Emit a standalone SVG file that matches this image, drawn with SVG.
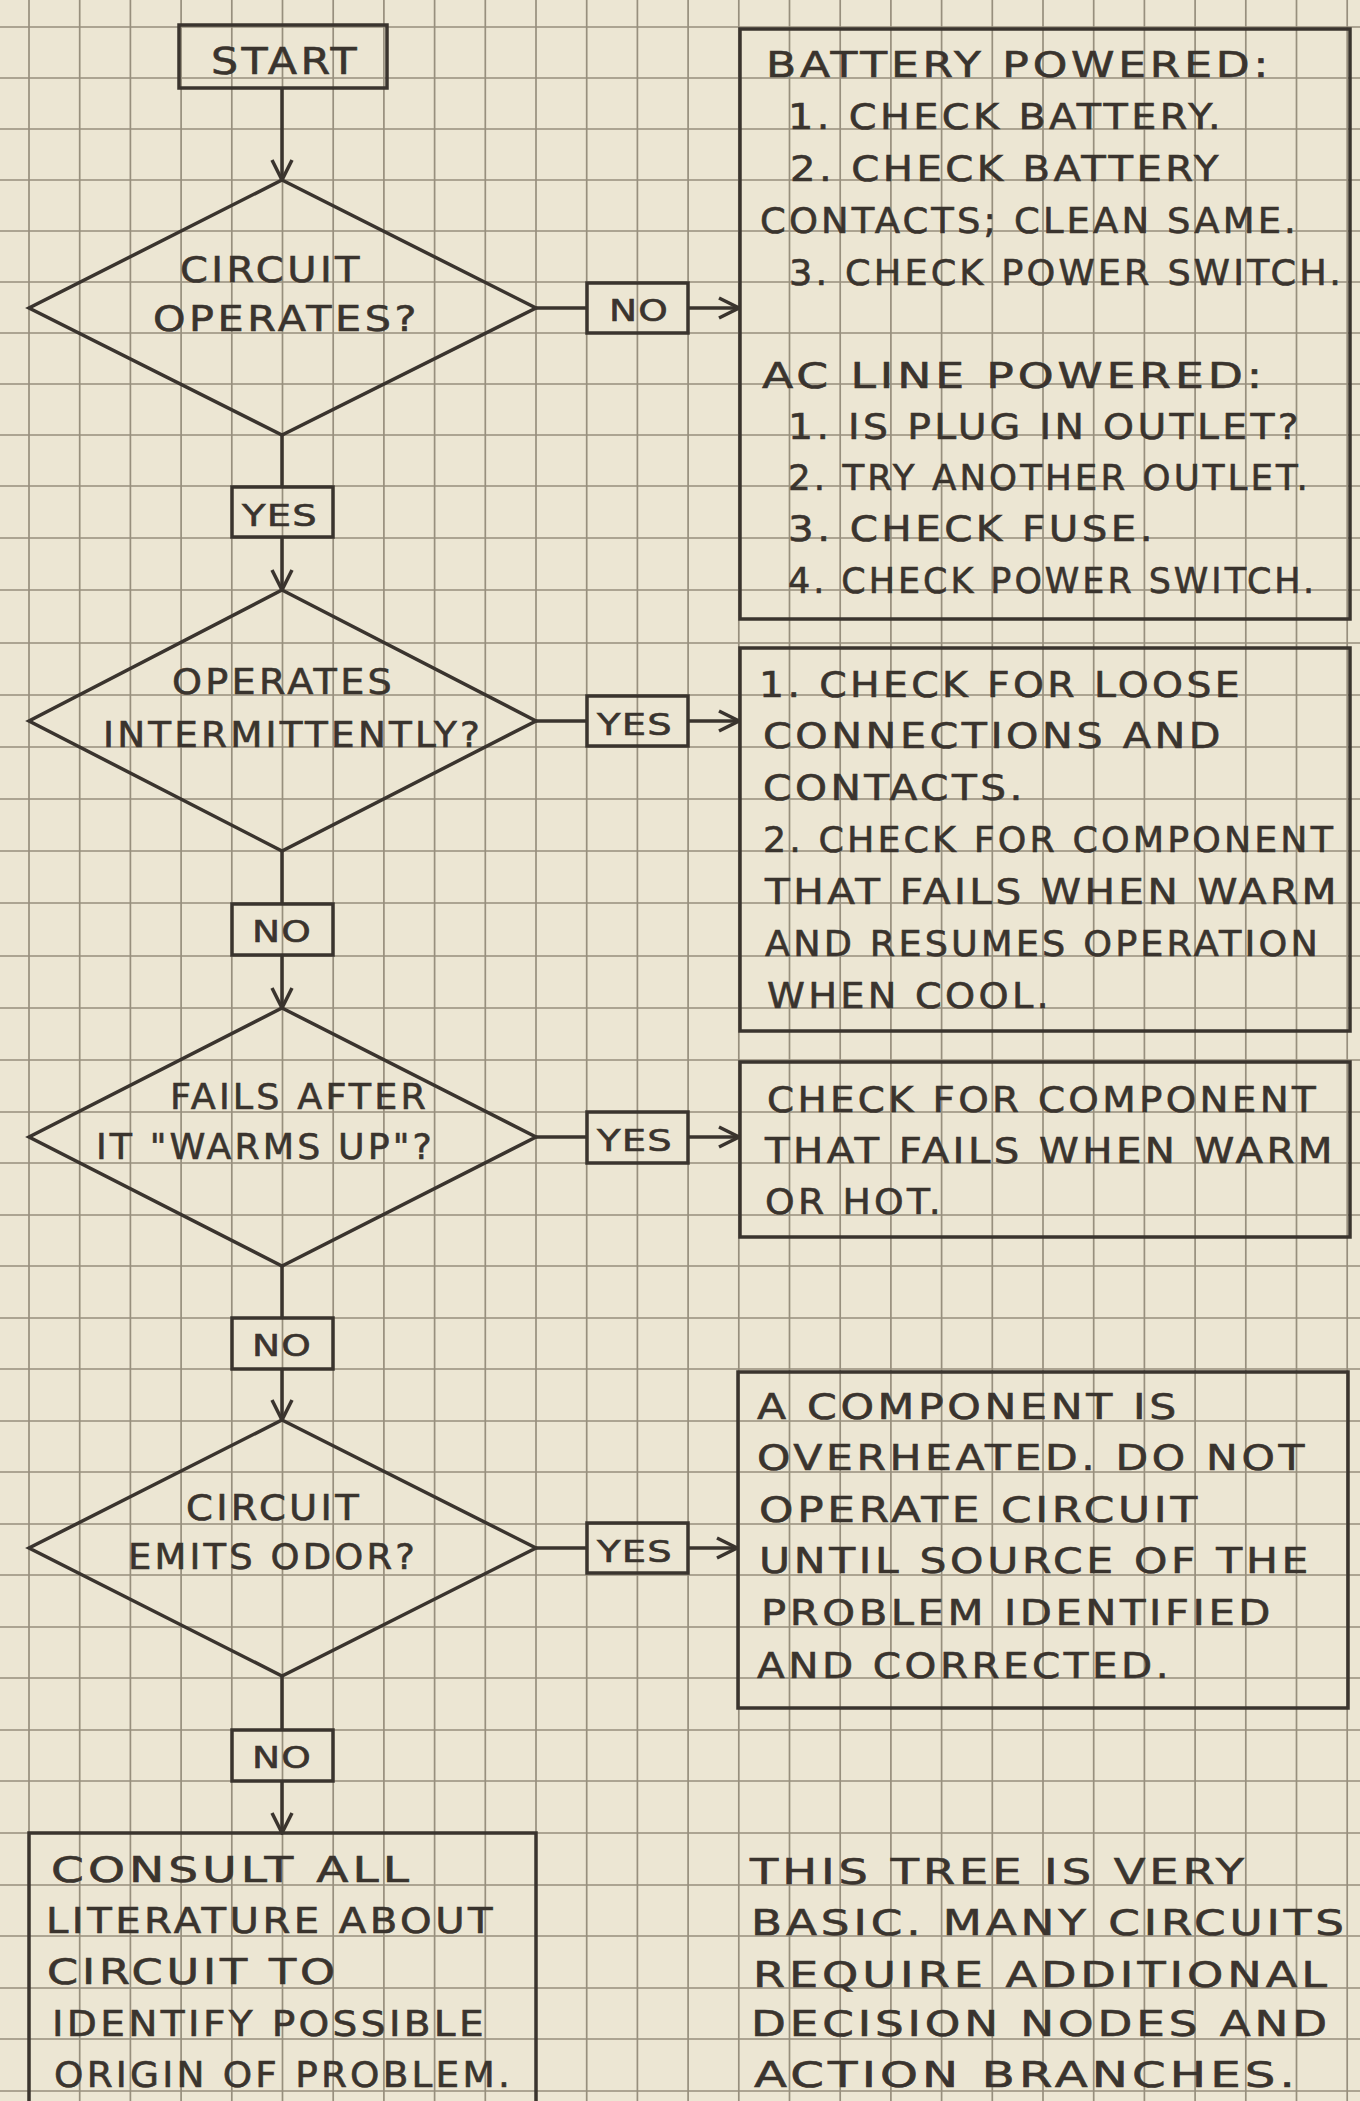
<svg xmlns="http://www.w3.org/2000/svg" width="1360" height="2101" viewBox="0 0 1360 2101">
<style>
.paper{fill:#ece6d3}
.grid{fill:none;stroke:#978f7d;stroke-width:1.7}
.ink{fill:none;stroke:#3a342e;stroke-width:3.5;stroke-linejoin:miter}
.edge{fill:none;stroke:#3a342e;stroke-width:3.5}
text{font-family:"DejaVu Sans","Liberation Sans",Arial,sans-serif;font-size:35px;fill:#3a342e;stroke:#3a342e;stroke-width:0.6;letter-spacing:3px}
.lab{font-size:31px;letter-spacing:1px}
.big{font-size:38px}
</style>
<defs>
<marker id="ah" viewBox="0 0 24 24" refX="22" refY="12" markerWidth="24" markerHeight="24" orient="auto" markerUnits="userSpaceOnUse">
<path d="M2,2 L22,12 L2,22" fill="none" stroke="#3a342e" stroke-width="3.5"/>
</marker>
</defs>
<rect class="paper" x="0" y="0" width="1360" height="2101"/>
<path class="grid" d="M29,0V2101M79.7,0V2101M130.4,0V2101M181.1,0V2101M231.8,0V2101M282.5,0V2101M333.2,0V2101M383.9,0V2101M434.6,0V2101M485.3,0V2101M536,0V2101M586.7,0V2101M637.4,0V2101M688.1,0V2101M738.8,0V2101M789.5,0V2101M840.2,0V2101M890.9,0V2101M941.6,0V2101M992.3,0V2101M1043,0V2101M1093.7,0V2101M1144.4,0V2101M1195.1,0V2101M1245.8,0V2101M1296.5,0V2101M1347.2,0V2101
M0,27H1360M0,78H1360M0,129H1360M0,180H1360M0,231H1360M0,282H1360M0,333H1360M0,384H1360M0,435H1360M0,486H1360M0,538H1360M0,590H1360M0,643H1360M0,695H1360M0,747H1360M0,799H1360M0,851H1360M0,903H1360M0,956H1360M0,1008H1360M0,1060H1360M0,1112H1360M0,1163H1360M0,1215H1360M0,1266H1360M0,1318H1360M0,1369H1360M0,1421H1360M0,1472H1360M0,1524H1360M0,1575H1360M0,1627H1360M0,1678H1360M0,1730H1360M0,1781H1360M0,1833H1360M0,1885H1360M0,1936H1360M0,1988H1360M0,2039H1360M0,2091H1360"/>

<g id="connectors">
<path class="edge" d="M282,88V180" marker-end="url(#ah)"/>
<path class="edge" d="M282,435V486"/>
<path class="edge" d="M282,538V590" marker-end="url(#ah)"/>
<path class="edge" d="M282,851V903"/>
<path class="edge" d="M282,956V1008" marker-end="url(#ah)"/>
<path class="edge" d="M282,1266V1318"/>
<path class="edge" d="M282,1369V1420" marker-end="url(#ah)"/>
<path class="edge" d="M282,1676V1730"/>
<path class="edge" d="M282,1781V1833" marker-end="url(#ah)"/>
<path class="edge" d="M536,308H587"/>
<path class="edge" d="M688,308H739" marker-end="url(#ah)"/>
<path class="edge" d="M536,721H587"/>
<path class="edge" d="M688,721H739" marker-end="url(#ah)"/>
<path class="edge" d="M536,1137H587"/>
<path class="edge" d="M688,1137H739" marker-end="url(#ah)"/>
<path class="edge" d="M536,1548H587"/>
<path class="edge" d="M688,1548H737" marker-end="url(#ah)"/>
</g>

<g id="start">
<rect class="ink" x="179" y="25" width="208" height="63"/>
<text x="211" y="74" class="big" textLength="149" lengthAdjust="spacingAndGlyphs">START</text>
</g>

<g id="d1">
<path class="ink" d="M282,180L536,308L282,435L29,308Z"/>
<text x="180" y="282" textLength="183" lengthAdjust="spacingAndGlyphs">CIRCUIT</text>
<text x="153" y="331" textLength="267" lengthAdjust="spacingAndGlyphs">OPERATES?</text>
</g>

<g id="no1">
<rect class="ink" x="587" y="283" width="101" height="50"/>
<text x="609" y="321" class="lab" textLength="60" lengthAdjust="spacingAndGlyphs">NO</text>
</g>

<g id="box1">
<rect class="ink" x="740" y="29" width="610" height="590"/>
<text x="766" y="77" textLength="506" lengthAdjust="spacingAndGlyphs">BATTERY POWERED:</text>
<text x="788" y="129" textLength="436" lengthAdjust="spacingAndGlyphs">1. CHECK BATTERY.</text>
<text x="790" y="181" textLength="432" lengthAdjust="spacingAndGlyphs">2. CHECK BATTERY</text>
<text x="760" y="233" textLength="539" lengthAdjust="spacingAndGlyphs">CONTACTS; CLEAN SAME.</text>
<text x="789" y="285" textLength="555" lengthAdjust="spacingAndGlyphs">3. CHECK POWER SWITCH.</text>
<text x="762" y="388" textLength="504" lengthAdjust="spacingAndGlyphs">AC LINE POWERED:</text>
<text x="788" y="439" textLength="514" lengthAdjust="spacingAndGlyphs">1. IS PLUG IN OUTLET?</text>
<text x="788" y="490" textLength="523" lengthAdjust="spacingAndGlyphs">2. TRY ANOTHER OUTLET.</text>
<text x="788" y="541" textLength="368" lengthAdjust="spacingAndGlyphs">3. CHECK FUSE.</text>
<text x="788" y="593" textLength="529" lengthAdjust="spacingAndGlyphs">4. CHECK POWER SWITCH.</text>
</g>

<g id="yes1">
<rect class="ink" x="232" y="487" width="101" height="50"/>
<text x="242" y="526" class="lab" textLength="76" lengthAdjust="spacingAndGlyphs">YES</text>
</g>

<g id="d2">
<path class="ink" d="M282,590L536,721L282,851L29,721Z"/>
<text x="172" y="694" textLength="223" lengthAdjust="spacingAndGlyphs">OPERATES</text>
<text x="103" y="747" textLength="380" lengthAdjust="spacingAndGlyphs">INTERMITTENTLY?</text>
</g>

<g id="yes2">
<rect class="ink" x="587" y="696" width="101" height="50"/>
<text x="597" y="735" class="lab" textLength="76" lengthAdjust="spacingAndGlyphs">YES</text>
</g>

<g id="box2">
<rect class="ink" x="740" y="648" width="610" height="383"/>
<text x="759" y="697" textLength="484" lengthAdjust="spacingAndGlyphs">1. CHECK FOR LOOSE</text>
<text x="763" y="748" textLength="461" lengthAdjust="spacingAndGlyphs">CONNECTIONS AND</text>
<text x="763" y="800" textLength="263" lengthAdjust="spacingAndGlyphs">CONTACTS.</text>
<text x="763" y="852" textLength="573" lengthAdjust="spacingAndGlyphs">2. CHECK FOR COMPONENT</text>
<text x="765" y="904" textLength="575" lengthAdjust="spacingAndGlyphs">THAT FAILS WHEN WARM</text>
<text x="765" y="956" textLength="556" lengthAdjust="spacingAndGlyphs">AND RESUMES OPERATION</text>
<text x="767" y="1008" textLength="285" lengthAdjust="spacingAndGlyphs">WHEN COOL.</text>
</g>

<g id="no2">
<rect class="ink" x="232" y="904" width="101" height="51"/>
<text x="252" y="942" class="lab" textLength="60" lengthAdjust="spacingAndGlyphs">NO</text>
</g>

<g id="d3">
<path class="ink" d="M282,1008L536,1137L282,1266L29,1137Z"/>
<text x="170" y="1109" textLength="259" lengthAdjust="spacingAndGlyphs">FAILS AFTER</text>
<text x="96" y="1159" textLength="339" lengthAdjust="spacingAndGlyphs">IT "WARMS UP"?</text>
</g>

<g id="yes3">
<rect class="ink" x="587" y="1112" width="101" height="51"/>
<text x="597" y="1151" class="lab" textLength="76" lengthAdjust="spacingAndGlyphs">YES</text>
</g>

<g id="box3">
<rect class="ink" x="740" y="1062" width="610" height="175"/>
<text x="767" y="1112" textLength="552" lengthAdjust="spacingAndGlyphs">CHECK FOR COMPONENT</text>
<text x="765" y="1163" textLength="571" lengthAdjust="spacingAndGlyphs">THAT FAILS WHEN WARM</text>
<text x="765" y="1214" textLength="179" lengthAdjust="spacingAndGlyphs">OR HOT.</text>
</g>

<g id="no3">
<rect class="ink" x="232" y="1318" width="101" height="51"/>
<text x="252" y="1356" class="lab" textLength="60" lengthAdjust="spacingAndGlyphs">NO</text>
</g>

<g id="d4">
<path class="ink" d="M282,1420L536,1548L282,1676L29,1548Z"/>
<text x="186" y="1520" textLength="176" lengthAdjust="spacingAndGlyphs">CIRCUIT</text>
<text x="128" y="1569" textLength="290" lengthAdjust="spacingAndGlyphs">EMITS ODOR?</text>
</g>

<g id="yes4">
<rect class="ink" x="587" y="1523" width="101" height="50"/>
<text x="597" y="1562" class="lab" textLength="76" lengthAdjust="spacingAndGlyphs">YES</text>
</g>

<g id="box4">
<rect class="ink" x="738" y="1372" width="610" height="336"/>
<text x="757" y="1419" textLength="423" lengthAdjust="spacingAndGlyphs">A COMPONENT IS</text>
<text x="757" y="1470" textLength="551" lengthAdjust="spacingAndGlyphs">OVERHEATED. DO NOT</text>
<text x="759" y="1522" textLength="442" lengthAdjust="spacingAndGlyphs">OPERATE CIRCUIT</text>
<text x="759" y="1573" textLength="553" lengthAdjust="spacingAndGlyphs">UNTIL SOURCE OF THE</text>
<text x="761" y="1625" textLength="513" lengthAdjust="spacingAndGlyphs">PROBLEM IDENTIFIED</text>
<text x="757" y="1678" textLength="415" lengthAdjust="spacingAndGlyphs">AND CORRECTED.</text>
</g>

<g id="no4">
<rect class="ink" x="232" y="1730" width="101" height="51"/>
<text x="252" y="1768" class="lab" textLength="60" lengthAdjust="spacingAndGlyphs">NO</text>
</g>

<g id="final">
<rect class="ink" x="29" y="1833" width="507" height="290"/>
<text x="51" y="1882" textLength="362" lengthAdjust="spacingAndGlyphs">CONSULT ALL</text>
<text x="46" y="1933" textLength="450" lengthAdjust="spacingAndGlyphs">LITERATURE ABOUT</text>
<text x="47" y="1984" textLength="292" lengthAdjust="spacingAndGlyphs">CIRCUIT TO</text>
<text x="52" y="2036" textLength="435" lengthAdjust="spacingAndGlyphs">IDENTIFY POSSIBLE</text>
<text x="54" y="2087" textLength="459" lengthAdjust="spacingAndGlyphs">ORIGIN OF PROBLEM.</text>
</g>

<g id="note">
<text x="750" y="1884" textLength="498" lengthAdjust="spacingAndGlyphs">THIS TREE IS VERY</text>
<text x="751" y="1935" textLength="597" lengthAdjust="spacingAndGlyphs">BASIC. MANY CIRCUITS</text>
<text x="753" y="1987" textLength="578" lengthAdjust="spacingAndGlyphs">REQUIRE ADDITIONAL</text>
<text x="751" y="2036" textLength="580" lengthAdjust="spacingAndGlyphs">DECISION NODES AND</text>
<text x="754" y="2087" textLength="545" lengthAdjust="spacingAndGlyphs">ACTION BRANCHES.</text>
</g>
</svg>
